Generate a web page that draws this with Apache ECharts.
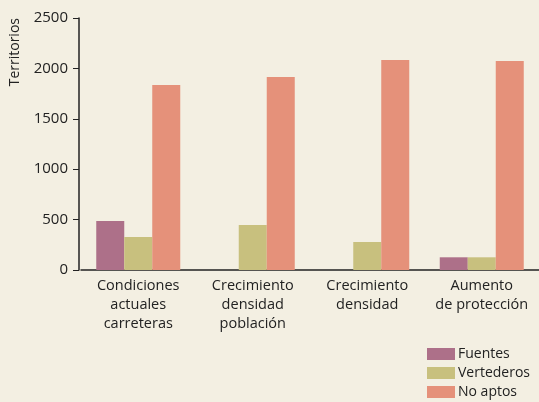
<!DOCTYPE html>
<html>
<head>
<meta charset="utf-8">
<script src="https://cdn.jsdelivr.net/npm/echarts@6/dist/echarts.min.js"></script>
<style>
html, body { margin: 0; padding: 0; background: #f3efe2; }
#main { width: 539px; height: 402px; }
</style>
</head>
<body>
<div id="main"></div>
<script>
// datos
var categorias = ['Condiciones\nactuales\ncarreteras', 'Crecimiento\ndensidad\npoblación', 'Crecimiento\ndensidad', 'Aumento\nde protección']
var fuentes = [486, 0, 0, 126]
var vertederos = [327, 446, 278, 126]
var noAptos = [1835, 1915, 2083, 2073]
var yTicks = [0, 500, 1000, 1500, 2000, 2500]

var myChart = echarts.init(document.getElementById('main'))
var fuente = '"Open Sans", "Noto Sans", sans-serif'

var option = {
    backgroundColor: '#f3efe2',
    animation: false,
    textStyle: { fontFamily: fuente },
    grid: { left: 81, right: -2, top: 18, bottom: 132 },
    legend: {
        orient: 'vertical',
        left: 427,
        top: 346,
        padding: 0,
        itemWidth: 28,
        itemHeight: 12,
        itemGap: 3,
        icon: 'rect',
        textStyle: { fontFamily: fuente, fontSize: 14, color: '#222', lineHeight: 16, padding: [0, 0, 0, -2] },
        data: ['Fuentes', 'Vertederos', 'No aptos']
    },
    xAxis: {
        type: 'category',
        data: categorias,
        axisLine: { lineStyle: { color: '#222', width: 1.5 } },
        axisTick: { show: false },
        axisLabel: { interval: 0, fontFamily: fuente, fontSize: 14.5, color: '#222', lineHeight: 19, margin: 6 }
    },
    yAxis: {
        type: 'value',
        min: yTicks[0],
        max: yTicks[yTicks.length - 1],
        interval: 500,
        offset: 2,
        name: 'Territorios',
        nameLocation: 'end',
        nameRotate: 90,
        nameGap: 0,
        nameTextStyle: { fontFamily: fuente, fontSize: 14, color: '#222', align: 'right', verticalAlign: 'bottom', padding: [0, 0, 57, 0] },
        splitLine: { show: false },
        axisLine: { show: true, lineStyle: { color: '#222', width: 1.5 } },
        axisTick: { show: true, length: 6, lineStyle: { color: '#222' } },
        axisLabel: {
            fontFamily: fuente, fontSize: 15, color: '#222', margin: 11,
            formatter: function (v) { return String(v) }
        }
    },
    series: [
        { name: 'Fuentes', type: 'bar', data: fuentes, barWidth: 28, barGap: '0%', itemStyle: { color: '#ad7089' } },
        { name: 'Vertederos', type: 'bar', data: vertederos, barWidth: 28, barGap: '0%', itemStyle: { color: '#c8c07e' } },
        { name: 'No aptos', type: 'bar', data: noAptos, barWidth: 28, barGap: '0%', itemStyle: { color: '#e5917a' } }
    ]
}
myChart.setOption(option)
</script>
</body>
</html>
